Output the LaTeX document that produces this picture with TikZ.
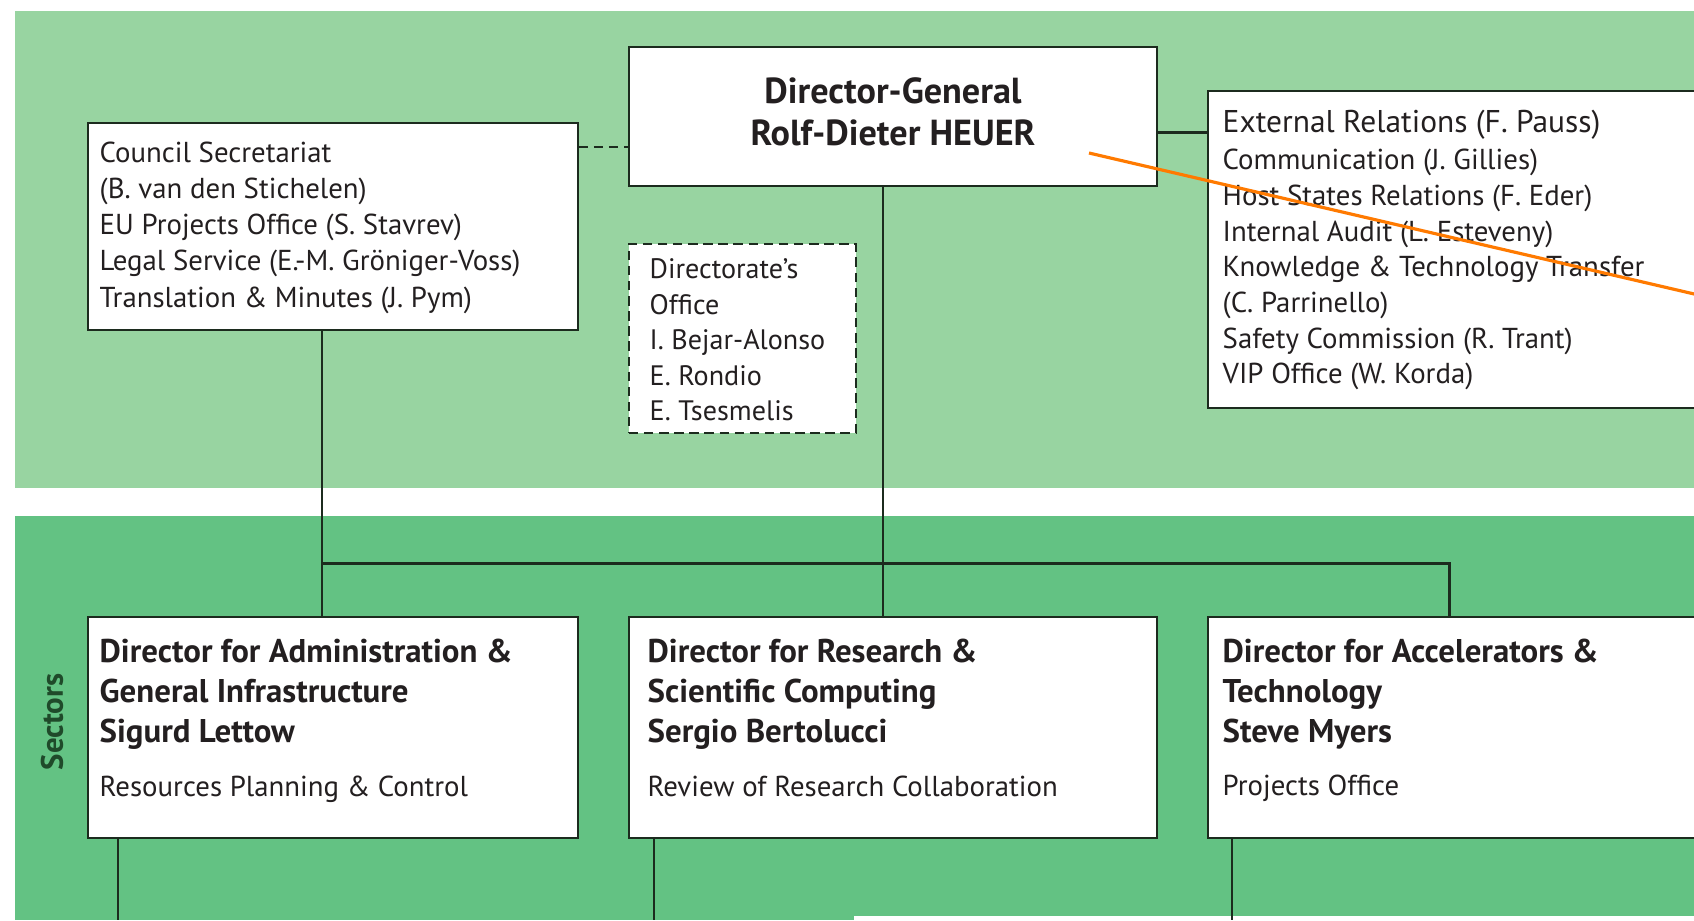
\documentclass[tikz,border=0pt]{standalone}
\usepackage{fontspec}
\setmainfont{PT Sans}
\usepackage{tikz}
\usetikzlibrary{positioning, calc}

\definecolor{verdeclaro}{HTML}{98D4A1}
\definecolor{verdeoscuro}{HTML}{63C283}
\definecolor{linea}{HTML}{1C2B1E}
\definecolor{tinta}{HTML}{231F20}
\definecolor{verdetexto}{HTML}{1F4A2A}
\definecolor{naranja}{HTML}{FF7A00}

\tikzset{
  caja/.style={rectangle, draw=linea, fill=white, line width=0.5pt, inner sep=0pt, anchor=north west},
  cajaoficina/.style={caja, dash pattern=on 2.7pt off 1.6pt},
  texto/.style={anchor=north west, align=left, inner sep=0pt, text=tinta, font=\fontsize{8.2}{10.3}\selectfont},
  titulo/.style={texto, font=\fontsize{9.35}{11.4}\selectfont\bfseries},
  conexion/.style={draw=linea, line width=0.7pt},
  discontinua/.style={draw=linea, line width=0.5pt, dash pattern=on 2.7pt off 1.6pt}
}

\begin{document}
\begin{tikzpicture}
    \useasboundingbox (0,0) rectangle (16.94,-9.20);

    % Franjas de fondo
    \fill[verdeclaro] (0.15,-0.11) rectangle (16.94,-4.88);
    \fill[verdeoscuro] (0.15,-5.16) rectangle (16.94,-9.20);
    \fill[white] (8.54,-9.16) rectangle (16.94,-9.20);

    % Cajas de la direccion general
    \node[caja, minimum width=5.28cm, minimum height=1.39cm] (dg) at (6.28,-0.46) {};
    \node[caja, minimum width=4.90cm, minimum height=2.07cm] (council) at (0.87,-1.22) {};
    \node[cajaoficina, minimum width=2.27cm, minimum height=1.89cm] (office) at (6.28,-2.43) {};
    \node[caja, minimum width=6cm, minimum height=3.17cm] (ext) at (12.07,-0.90) {};

    % Cajas de los sectores
    \node[caja, minimum width=4.90cm, minimum height=2.21cm] (admin) at (0.87,-6.16) {};
    \node[caja, minimum width=5.28cm, minimum height=2.21cm] (research) at (6.28,-6.16) {};
    \node[caja, minimum width=6cm, minimum height=2.21cm] (accel) at (12.07,-6.16) {};

    % --- TEXTOS ---
    \node[font=\fontsize{10.3}{12.1}\selectfont\bfseries, align=center, text=tinta, inner sep=0pt] (dgtxt) at (8.93,-1.12) {Director-General\\Rolf-Dieter HEUER};

    \node[texto] (counciltxt) at (0.99,-1.41) {Council Secretariat\\(B. van den Stichelen)\\EU Projects Office (S. Stavrev)\\Legal Service (E.-M. Gröniger-Voss)\\Translation \& Minutes (J. Pym)};

    \node[texto, font=\fontsize{8}{10.1}\selectfont] (officetxt) at (6.49,-2.58) {Directorate's\\Office\\I. Bejar-Alonso\\E. Rondio\\E. Tsesmelis};

    \node[texto, font=\fontsize{8.2}{10.15}\selectfont] (exttxt) at (12.22,-1.09) {{\fontsize{8.95}{10.15}\selectfont External Relations (F. Pauss)}\\[0.6pt]Communication (J. Gillies)\\Host States Relations (F. Eder)\\Internal Audit (L. Esteveny)\\Knowledge \& Technology Transfer\\(C. Parrinello)\\Safety Commission (R. Trant)\\VIP Office (W. Korda)};

    \node[titulo] (admintxt) at (0.99,-6.38) {Director for Administration \&\\General Infrastructure\\Sigurd Lettow};
    \node[texto] (adminsub) at ([yshift=-2.5mm]admintxt.south west) {Resources Planning \& Control};

    \node[titulo] (researchtxt) at (6.47,-6.38) {Director for Research \&\\Scientific Computing\\Sergio Bertolucci};
    \node[texto] (researchsub) at ([yshift=-2.5mm]researchtxt.south west) {Review of Research Collaboration};

    \node[titulo] (acceltxt) at (12.22,-6.38) {Director for Accelerators \&\\Technology\\Steve Myers};
    \node[texto] (accelsub) at ([yshift=-2.5mm]acceltxt.south west) {Projects Office};

    \node[rotate=90, font=\fontsize{8.8}{10}\selectfont\bfseries, text=verdetexto, inner sep=0pt] (sectors) at (0.52,-7.22) {Sectors};

    % --- CONEXIONES ---
    \coordinate (dashy) at ([yshift=-2.5mm]council.north east);
    \draw[discontinua] (dashy) -- (dashy -| dg.west);

    \coordinate (extlink) at ([yshift=-1.6mm]dg.east);
    \draw[conexion] (extlink) -- (extlink -| ext.west);

    % Lineas hacia los sectores
    \coordinate (dgdrop) at (8.83,-5.63);
    \draw[conexion] (dg.south -| dgdrop) -- (research.north -| dgdrop);
    \coordinate (bus) at (3.22,-5.63);
    \coordinate (acceldrop) at (14.49,-5.63);
    \draw[conexion] (council.south -| bus) -- (admin.north -| bus);
    \draw[conexion, line width=0.85pt] (bus) -- (acceldrop) -- (accel.north -| acceldrop);

    % Bajadas inferiores
    \coordinate (adminout) at (1.18,-9.20);
    \coordinate (researchout) at (6.54,-9.20);
    \coordinate (accelout) at (12.32,-9.20);
    \draw[conexion] (admin.south -| adminout) -- (adminout);
    \draw[conexion] (research.south -| researchout) -- (researchout);
    \draw[conexion] (accel.south -| accelout) -- (accelout);

    % Trazo naranja
    \coordinate (marcaini) at (10.89,-1.53);
    \coordinate (marcafin) at (17.2,-3.0);
    \draw[naranja, line width=0.9pt] (marcaini) -- (marcafin);

\end{tikzpicture}
\end{document}
